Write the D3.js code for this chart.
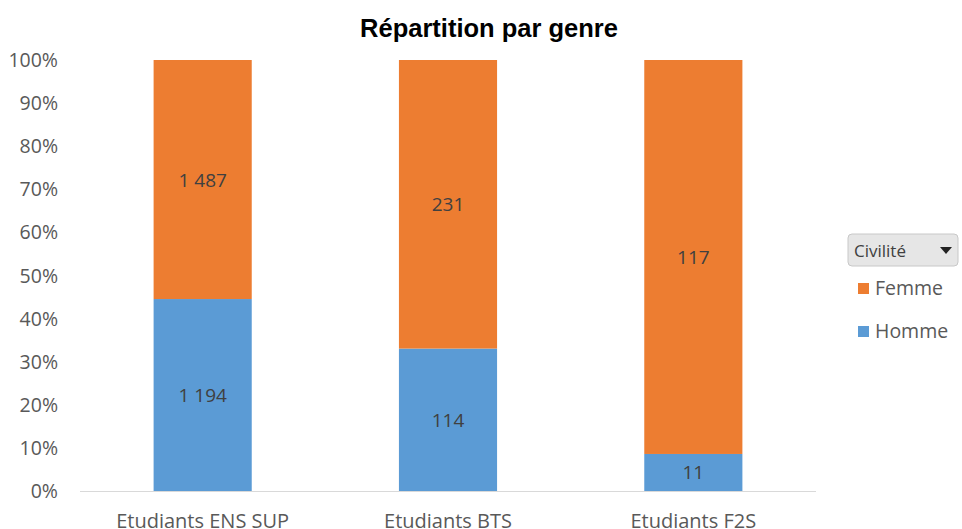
<!DOCTYPE html>
<html>
<head>
<meta charset="utf-8">
<script src="https://cdn.jsdelivr.net/npm/d3@7"></script>
<style>
  body { margin: 0; background: #fff; }
  svg { display: block; }
</style>
</head>
<body>
<div id="chart"></div>
<script>
// DATA
const categories = ["Etudiants ENS SUP", "Etudiants BTS", "Etudiants F2S"];
const homme = [1194, 114, 11];
const femme = [1487, 231, 117];
const seriesNames = ["Femme", "Homme"];
const yTicks = [0, 0.1, 0.2, 0.3, 0.4, 0.5, 0.6, 0.7, 0.8, 0.9, 1];

// SIZES
const width = 962, height = 529;
const plotLeft = 80, plotRight = 816, plotTop = 60, plotBottom = 491;
const colors = { Homme: "#5b9bd5", Femme: "#ed7d31" };
const font = "'Open Sans', sans-serif";

const fmt = d3.formatLocale({ decimal: ",", thousands: "\u00a0", grouping: [3], currency: ["", "€"] }).format(",d");

const rows = categories.map((c, i) => ({ cat: c, Homme: homme[i], Femme: femme[i] }));

const svg = d3.select("#chart").append("svg")
    .attr("width", width).attr("height", height);

const x = d3.scaleBand().domain(categories).range([plotLeft, plotRight]).paddingInner(0.6).paddingOuter(0.3);
const y = d3.scaleLinear().domain([0, 1]).range([plotBottom, plotTop]);

// TITLE
svg.append("text")
    .attr("x", 489).attr("y", 37)
    .attr("text-anchor", "middle")
    .style("font-family", "Arial, 'Liberation Sans', sans-serif")
    .style("font-weight", "bold").style("font-size", "25.5px")
    .text("Répartition par genre");

// Y AXIS LABELS
svg.selectAll(".ytick").data(yTicks).enter().append("text")
    .attr("x", 58).attr("y", d => y(d) + 7)
    .attr("text-anchor", "end")
    .style("font-family", font).style("font-size", "19.5px").style("fill", "#595959")
    .text(d => d3.format(".0%")(d));

// STACK (normalised)
const stack = d3.stack().keys(["Homme", "Femme"]).offset(d3.stackOffsetExpand);
const layers = stack(rows);

const g = svg.selectAll(".layer").data(layers).enter().append("g")
    .attr("fill", d => colors[d.key]);

g.selectAll("rect").data(d => d).enter().append("rect")
    .attr("x", d => x(d.data.cat))
    .attr("width", x.bandwidth())
    .attr("y", d => y(d[1]))
    .attr("height", d => y(d[0]) - y(d[1]));

// DATA LABELS
layers.forEach(layer => {
    svg.selectAll(null).data(layer).enter().append("text")
        .attr("x", d => x(d.data.cat) + x.bandwidth() / 2)
        .attr("y", d => (y(d[0]) + y(d[1])) / 2 + 7)
        .attr("text-anchor", "middle")
        .style("font-family", font).style("font-size", "19px").style("fill", "#404040")
        .text(d => fmt(d.data[layer.key]));
});

// X AXIS LINE
svg.append("line")
    .attr("x1", plotLeft).attr("x2", plotRight)
    .attr("y1", plotBottom + 0.5).attr("y2", plotBottom + 0.5)
    .attr("stroke", "#d9d9d9").attr("stroke-width", 1);

// X LABELS
svg.selectAll(".xlab").data(categories).enter().append("text")
    .attr("x", d => x(d) + x.bandwidth() / 2)
    .attr("y", 528)
    .attr("text-anchor", "middle")
    .style("font-family", font).style("font-size", "20px").style("fill", "#595959")
    .text(d => d);

// LEGEND BUTTON
const btn = svg.append("g").attr("transform", "translate(848,234)");
btn.append("rect")
    .attr("width", 110).attr("height", 32).attr("rx", 4)
    .attr("fill", "#e6e6e6").attr("stroke", "#c8c8c8");
btn.append("text")
    .attr("x", 6).attr("y", 23)
    .style("font-family", font).style("font-size", "17px").style("fill", "#404040")
    .text("Civilité");
btn.append("path")
    .attr("d", "M92,13 L104,13 L98,20 Z")
    .attr("fill", "#222");

// LEGEND ITEMS
const legend = svg.selectAll(".leg").data(seriesNames).enter().append("g")
    .attr("transform", (d, i) => `translate(858,${283 + i * 43})`);
legend.append("rect")
    .attr("width", 11).attr("height", 11)
    .attr("fill", d => colors[d]);
legend.append("text")
    .attr("x", 17).attr("y", 12)
    .style("font-family", font).style("font-size", "19.5px").style("fill", "#595959")
    .text(d => d);
</script>
</body>
</html>
